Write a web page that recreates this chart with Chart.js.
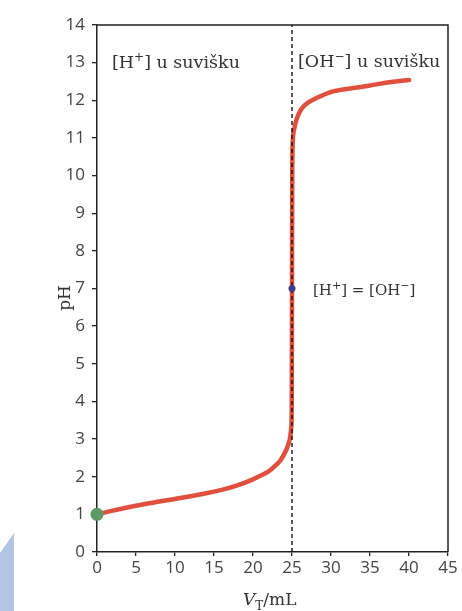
<!DOCTYPE html>
<html>
<head>
<meta charset="utf-8">
<script src="https://cdn.jsdelivr.net/npm/chart.js@4.4.0/dist/chart.umd.min.js"></script>
<style>
  html, body { margin: 0; padding: 0; background: #fff; }
  #wrap { width: 462px; height: 611px; position: relative; }
</style>
</head>
<body>
<div id="wrap"><canvas id="titrChart" width="462" height="611"></canvas></div>
<script>
// titration curve (V_T in mL, pH)
var volumes = [0, 2, 4, 6, 8, 10, 12, 14, 16, 18, 20, 21, 22, 23, 23.5, 24, 24.4, 24.7, 24.9, 24.97,
  25, 25.03, 25.1, 25.3, 25.6, 26, 26.5, 27, 28, 29, 30, 32, 34, 36, 38, 40];
var phValues = [1.0, 1.1, 1.19, 1.27, 1.34, 1.41, 1.48, 1.56, 1.65, 1.77, 1.93, 2.03, 2.14, 2.32, 2.43, 2.6, 2.78, 2.98, 3.3, 4.0,
  7.0, 10.0, 10.9, 11.25, 11.5, 11.7, 11.84, 11.93, 12.05, 12.14, 12.22, 12.3, 12.36, 12.43, 12.49, 12.54];

var xTicks = [0, 5, 10, 15, 20, 25, 30, 35, 40, 45];
var yTicks = [0, 1, 2, 3, 4, 5, 6, 7, 8, 9, 10, 11, 12, 13, 14];

var startPoint = [0, 1];      // green dot
var equivPoint = [25, 7];     // blue dot
var equivLineX = [25, 25];
var equivLineY = [0, 14];

var curveData = volumes.map(function (v, i) { return { x: v, y: phValues[i] }; });
var lineData = equivLineX.map(function (v, i) { return { x: v, y: equivLineY[i] }; });

var ink = '#222';
var serif = '"DejaVu Serif", serif';

// text with superscripts / subscripts, drawn left to right
function drawParts(ctx, x, y, parts, size) {
  parts.forEach(function (p) {
    var kind = p[1] || '';
    var s = kind ? Math.round(size * 0.7) : size;
    var dy = kind === 'sup' ? -size * 0.42 : (kind === 'sub' ? size * 0.28 : 0);
    ctx.font = (p[2] || '') + ' ' + s + 'px ' + serif;
    ctx.fillText(p[0], x, y + dy);
    x += ctx.measureText(p[0]).width;
  });
}

var extras = {
  id: 'extras',
  beforeDraw: function (chart) {
    var ctx = chart.ctx;
    ctx.save();
    // light blue scan mark bottom left
    ctx.fillStyle = '#b4c4e4';
    ctx.beginPath();
    ctx.moveTo(0, 553); ctx.lineTo(14, 533); ctx.lineTo(14, 611); ctx.lineTo(0, 611);
    ctx.closePath();
    ctx.fill();
    ctx.restore();
  },
  afterDraw: function (chart) {
    var ctx = chart.ctx, a = chart.chartArea;
    ctx.save();
    // top and right frame
    ctx.strokeStyle = ink;
    ctx.lineWidth = 1.5;
    ctx.beginPath();
    ctx.moveTo(a.left, a.top); ctx.lineTo(a.right, a.top); ctx.lineTo(a.right, a.bottom);
    ctx.stroke();

    ctx.fillStyle = '#333';
    ctx.textBaseline = 'alphabetic';
    ctx.textAlign = 'left';
    drawParts(ctx, a.left + 15, a.top + 43, [['[H'], ['+', 'sup'], ['] u suvišku']], 17.5);
    drawParts(ctx, a.left + 201, a.top + 42, [['[OH'], ['\u2212', 'sup'], ['] u suvišku']], 17.5);
    drawParts(ctx, a.left + 216, a.top + 270, [['[H'], ['+', 'sup'], ['] = [OH'], ['\u2212', 'sup'], [']']], 15);

    // axis titles
    drawParts(ctx, 243, 605, [['V', '', 'italic'], ['T', 'sub'], ['/mL']], 17);
    ctx.translate(70, 298);
    ctx.rotate(-Math.PI / 2);
    ctx.textAlign = 'center';
    ctx.font = '17px ' + serif;
    ctx.fillText('pH', 0, 0);
    ctx.restore();
  }
};

var tickFont = { family: '"Open Sans", sans-serif', size: 17 };

new Chart(document.getElementById('titrChart').getContext('2d'), {
  type: 'line',
  data: {
    datasets: [
      {
        data: [{ x: equivPoint[0], y: equivPoint[1] }],
        showLine: false,
        pointRadius: 3.5,
        pointBackgroundColor: '#3b3f8f',
        pointBorderWidth: 0
      },
      {
        data: [{ x: startPoint[0], y: startPoint[1] }],
        showLine: false,
        pointRadius: 6.5,
        pointBackgroundColor: '#5e9a66',
        pointBorderWidth: 0,
        clip: false
      },
      {
        data: lineData,
        borderColor: '#111',
        borderWidth: 1.4,
        borderDash: [4, 3],
        pointRadius: 0
      },
      {
        data: curveData,
        borderColor: '#e0503e',
        borderWidth: 4.5,
        cubicInterpolationMode: 'monotone',
        borderCapStyle: 'round',
        pointRadius: 0
      }
    ]
  },
  options: {
    responsive: false,
    devicePixelRatio: 1,
    animation: false,
    layout: { padding: { top: 25, right: 14, left: 0, bottom: 0 } },
    plugins: { legend: { display: false }, tooltip: { enabled: false } },
    scales: {
      x: {
        type: 'linear',
        min: 0,
        max: 45,
        afterBuildTicks: function (s) { s.ticks = xTicks.map(function (v) { return { value: v }; }); },
        afterFit: function (s) { s.height = 59; },
        grid: { drawOnChartArea: false, drawTicks: true, tickLength: 4, color: ink, lineWidth: 1.3 },
        border: { color: ink, width: 1.5 },
        ticks: { font: tickFont, color: '#444', padding: 2, maxRotation: 0 }
      },
      y: {
        type: 'linear',
        min: 0,
        max: 14,
        afterBuildTicks: function (s) { s.ticks = yTicks.map(function (v) { return { value: v }; }); },
        afterFit: function (s) { s.width = 97; },
        grid: { drawOnChartArea: false, drawTicks: true, tickLength: 5, color: ink, lineWidth: 1.3 },
        border: { color: ink, width: 1.5 },
        ticks: { font: tickFont, color: '#444', padding: 7 }
      }
    }
  },
  plugins: [extras]
});
</script>
</body>
</html>
